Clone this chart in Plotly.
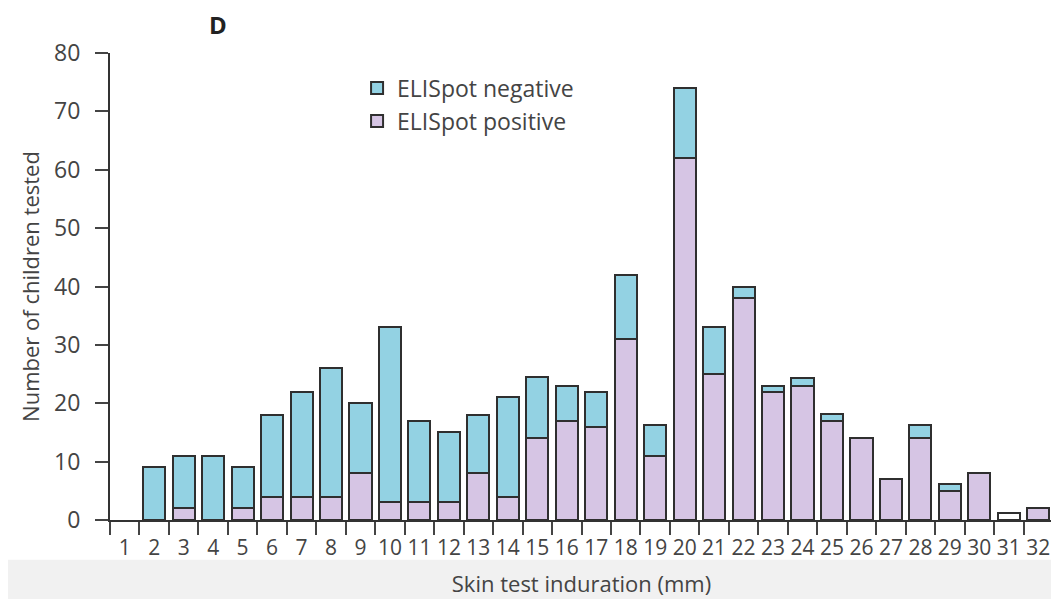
import plotly.graph_objects as go

categories = [str(i) for i in range(1, 33)]
totals = [0, 9, 11, 11, 9, 18, 22, 26, 20, 33, 17, 15, 18, 21, 24.5, 23, 22, 42, 16.3, 74,
          33, 40, 23, 24.3, 18.2, 14, 7, 16.3, 6.2, 8, 0, 2]
positive = [0, 0, 2, 0, 2, 4, 4, 4, 8, 3, 3, 3, 8, 4, 14, 17, 16, 31, 11, 62,
            25, 38, 22, 23, 17, 14, 7, 14, 5, 8, 0, 2]
unclassified = [0] * 30 + [1.2, 0]
negative = [round(t - p, 2) for t, p in zip(totals, positive)]

NEG_COLOR = "#93d2e3"
POS_COLOR = "#d6c5e4"
EDGE = "#2f2f2f"
TEXT = "#444444"
FONT = "Open Sans"


def nz(vals):
    return [v if v else None for v in vals]


fig = go.Figure()
fig.add_trace(go.Bar(x=categories, y=nz(positive), name="ELISpot positive",
                     marker=dict(color=POS_COLOR, line=dict(color=EDGE, width=2))))
fig.add_trace(go.Bar(x=categories, y=nz(negative), name="ELISpot negative",
                     marker=dict(color=NEG_COLOR, line=dict(color=EDGE, width=2))))
fig.add_trace(go.Bar(x=categories, y=nz(unclassified), name="unclassified", showlegend=False,
                     marker=dict(color="white", line=dict(color=EDGE, width=2))))

fig.update_layout(
    width=1051, height=591,
    barmode="stack", bargap=0.25,
    plot_bgcolor="white", paper_bgcolor="white",
    margin=dict(l=102, r=6, t=45, b=79, autoexpand=False),
    font=dict(family=FONT, color=TEXT, size=20),
    showlegend=True,
    legend=dict(x=0.262, y=0.971, xanchor="left", yanchor="top",
                traceorder="reversed", font=dict(size=23, color=TEXT),
                bgcolor="rgba(0,0,0,0)", itemwidth=30, tracegroupgap=0),
    xaxis=dict(type="category", categoryorder="array", categoryarray=categories,
               tickson="boundaries", ticks="outside", ticklen=13, tickwidth=2,
               tickcolor="#444444", showline=True, linecolor="#333333", linewidth=2,
               showgrid=False, tickfont=dict(size=21, color=TEXT), tickangle=0,
               ticklabelstandoff=8, automargin=False,
               title=dict(text="Skin test induration (mm)", font=dict(size=22, color=TEXT),
                          standoff=16)),
    yaxis=dict(range=[0, 80], dtick=10, ticks="outside", ticklen=13, tickwidth=2,
               tickcolor="#444444", showline=True, linecolor="#333333", linewidth=2,
               showgrid=False, zeroline=False, tickfont=dict(size=23, color=TEXT),
               ticklabelstandoff=10, automargin=False,
               title=dict(text="Number of children tested", font=dict(size=22, color=TEXT),
                          standoff=8)),
    shapes=[dict(type="rect", xref="paper", yref="paper", x0=-0.5, x1=1.5,
                 y0=-0.5, y1=-0.085, fillcolor="#f1f1f1", line=dict(width=0), layer="below")],
    annotations=[dict(text="<b>D</b>", xref="paper", yref="paper", x=0.114, y=1.06,
                      xanchor="center", yanchor="middle", showarrow=False,
                      font=dict(size=24, color="#222222", family=FONT))],
)

fig.write_html("out.html")
